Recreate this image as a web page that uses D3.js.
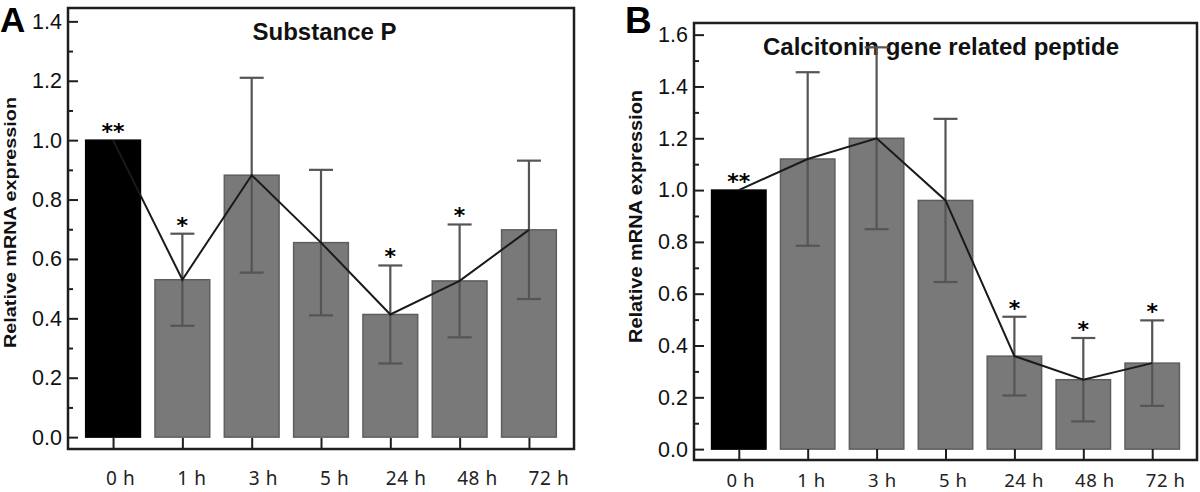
<!DOCTYPE html>
<html><head><meta charset="utf-8">
<script src="https://cdn.jsdelivr.net/npm/d3@7"></script>
<style>body{margin:0;background:#fff}svg{display:block}</style>
</head><body>
<svg id="c" width="1200" height="492"></svg>
<script>
// ---- data ----
const categories = ["0 h", "1 h", "3 h", "5 h", "24 h", "48 h", "72 h"];
const spMean = [1.0, 0.53, 0.882, 0.655, 0.413, 0.526, 0.698];
const spErr  = [0, 0.155, 0.328, 0.245, 0.165, 0.19, 0.233];
const spSig  = ["**", "*", "", "", "*", "*", ""];
const cgrpMean = [1.0, 1.12, 1.2, 0.96, 0.359, 0.268, 0.332];
const cgrpErr  = [0, 0.335, 0.351, 0.315, 0.152, 0.161, 0.165];
const cgrpSig  = ["**", "", "", "", "*", "*", "*"];
const yTicksA = [0, 0.2, 0.4, 0.6, 0.8, 1.0, 1.2, 1.4];
const yMinorA = [0.1, 0.3, 0.5, 0.7, 0.9, 1.1, 1.3];
const yTicksB = [0, 0.2, 0.4, 0.6, 0.8, 1.0, 1.2, 1.4, 1.6];
const yMinorB = [0.1, 0.3, 0.5, 0.7, 0.9, 1.1, 1.3, 1.5];
const yDomainA = [-0.04, 1.445];
const yDomainB = [-0.042, 1.645];
const titleA = "Substance P";
const titleB = "Calcitonin gene related peptide";
const yLabel = "Relative mRNA expression";

const svg = d3.select("#c");
const INK = "#1e1e1e";

function drawPanel(cfg) {
  const {l, t, r, b} = cfg.frame;
  const x = d3.scalePoint().domain(categories).range([l, r]).padding(0.65);
  const y = d3.scaleLinear().domain(cfg.yDomain).range([b, t]);
  const g = svg.append("g");
  const bw = x.step() * 0.79;

  // panel letter
  g.append("text").attr("x", cfg.letterX).attr("y", cfg.letterY)
    .attr("font-family", "Liberation Sans, Arial, sans-serif").attr("font-weight", "bold")
    .attr("font-size", cfg.letterSize).attr("fill", "#000").text(cfg.letter);

  // title
  g.append("text").attr("x", (l + r) / 2 + cfg.titleDx).attr("y", t + 32)
    .attr("text-anchor", "middle")
    .attr("font-family", "Liberation Sans, Arial, sans-serif").attr("font-weight", "bold")
    .attr("font-size", 24).attr("fill", "#111").text(cfg.title);

  // y label
  g.append("text")
    .attr("transform", `translate(${cfg.yLabX},${cfg.yLabY}) rotate(-90)`)
    .attr("text-anchor", "middle")
    .attr("font-family", "Liberation Sans, Arial, sans-serif").attr("font-weight", "bold")
    .attr("font-size", cfg.yLabSize).attr("textLength", cfg.yLabLen).attr("lengthAdjust", "spacingAndGlyphs")
    .attr("fill", "#111").text(yLabel);

  // bars
  g.selectAll("rect.bar").data(cfg.mean).join("rect").attr("class", "bar")
    .attr("x", (d, i) => x(categories[i]) - bw / 2)
    .attr("y", d => y(d))
    .attr("width", bw)
    .attr("height", d => y(0) - y(d))
    .attr("fill", (d, i) => i === 0 ? "#000" : "#797979")
    .attr("stroke", (d, i) => i === 0 ? "#000" : "#5e5e5e")
    .attr("stroke-width", 1.5);

  // error bars
  const cap = 24;
  const eg = g.append("g").attr("stroke", "#555").attr("stroke-width", 2.2).attr("fill", "none");
  cfg.mean.forEach((m, i) => {
    const e = cfg.err[i];
    if (!e) return;
    const cx = x(categories[i]);
    eg.append("line").attr("x1", cx).attr("x2", cx).attr("y1", y(m - e)).attr("y2", y(m + e));
    eg.append("line").attr("x1", cx - cap / 2).attr("x2", cx + cap / 2).attr("y1", y(m + e)).attr("y2", y(m + e));
    eg.append("line").attr("x1", cx - cap / 2).attr("x2", cx + cap / 2).attr("y1", y(m - e)).attr("y2", y(m - e));
  });

  // connecting line
  const line = d3.line().x((d, i) => x(categories[i])).y(d => y(d));
  g.append("path").datum(cfg.mean).attr("d", line)
    .attr("fill", "none").attr("stroke", "#1a1a1a").attr("stroke-width", 2);

  // significance marks
  g.selectAll("text.sig").data(cfg.sig).join("text").attr("class", "sig")
    .attr("x", (d, i) => x(categories[i]))
    .attr("y", (d, i) => y(cfg.mean[i] + cfg.err[i]) - 1)
    .attr("text-anchor", "middle")
    .attr("font-family", "DejaVu Sans, sans-serif").attr("font-weight", "bold")
    .attr("font-size", 22).attr("fill", "#000").text(d => d);

  // y axis (inward ticks)
  const yAxis = d3.axisLeft(y).tickValues(cfg.ticks).tickFormat(d3.format(".1f"))
    .tickSizeInner(-10).tickSizeOuter(0).tickPadding(6);
  const ya = g.append("g").attr("transform", `translate(${l},0)`).call(yAxis);
  ya.select(".domain").remove();
  ya.selectAll("line").attr("stroke", INK).attr("stroke-width", 2);
  ya.selectAll("text").attr("font-family", "Liberation Sans, Arial, sans-serif")
    .attr("font-size", 21.5).attr("fill", "#111");
  const ym = g.append("g").attr("transform", `translate(${l},0)`)
    .call(d3.axisLeft(y).tickValues(cfg.minor).tickFormat("").tickSizeInner(-5).tickSizeOuter(0));
  ym.select(".domain").remove();
  ym.selectAll("line").attr("stroke", INK).attr("stroke-width", 2);

  // x axis ticks (inward)
  const xa = g.append("g").attr("transform", `translate(0,${b})`)
    .call(d3.axisBottom(x).tickFormat("").tickSizeInner(-11).tickSizeOuter(0));
  xa.select(".domain").remove();
  xa.selectAll("line").attr("stroke", INK).attr("stroke-width", 2);

  // x labels
  const lx = d3.scalePoint().domain(categories)
    .range([x(categories[0]) + cfg.lab0, x(categories[categories.length - 1]) + cfg.lab1]);
  g.selectAll("text.xl").data(categories).join("text").attr("class", "xl")
    .attr("x", d => lx(d)).attr("y", cfg.labY)
    .attr("text-anchor", "middle")
    .attr("font-family", "Noto Sans, sans-serif")
    .attr("font-size", cfg.labSize).attr("letter-spacing", 0.6).attr("fill", "#222").text(d => d);

  // frame
  g.append("rect").attr("x", l).attr("y", t).attr("width", r - l).attr("height", b - t)
    .attr("fill", "none").attr("stroke", INK).attr("stroke-width", 2.5);
}

drawPanel({
  frame: {l: 68, t: 8, r: 574, b: 449}, yDomain: yDomainA,
  mean: spMean, err: spErr, sig: spSig, ticks: yTicksA, minor: yMinorA,
  title: titleA, titleDx: 3.5, letter: "A", letterX: 0, letterY: 32, letterSize: 35,
  yLabX: 15.5, yLabY: 222.5, yLabSize: 17, yLabLen: 251,
  lab0: 7.5, lab1: 20, labY: 484.5, labSize: 19
});
drawPanel({
  frame: {l: 694, t: 23, r: 1197, b: 460}, yDomain: yDomainB,
  mean: cgrpMean, err: cgrpErr, sig: cgrpSig, ticks: yTicksB, minor: yMinorB,
  title: titleB, titleDx: -4.5, letter: "B", letterX: 625, letterY: 33, letterSize: 37,
  yLabX: 641.5, yLabY: 216.5, yLabSize: 18, yLabLen: 253,
  lab0: 2, lab1: 13.5, labY: 487, labSize: 18.5
});
</script>
</body></html>
